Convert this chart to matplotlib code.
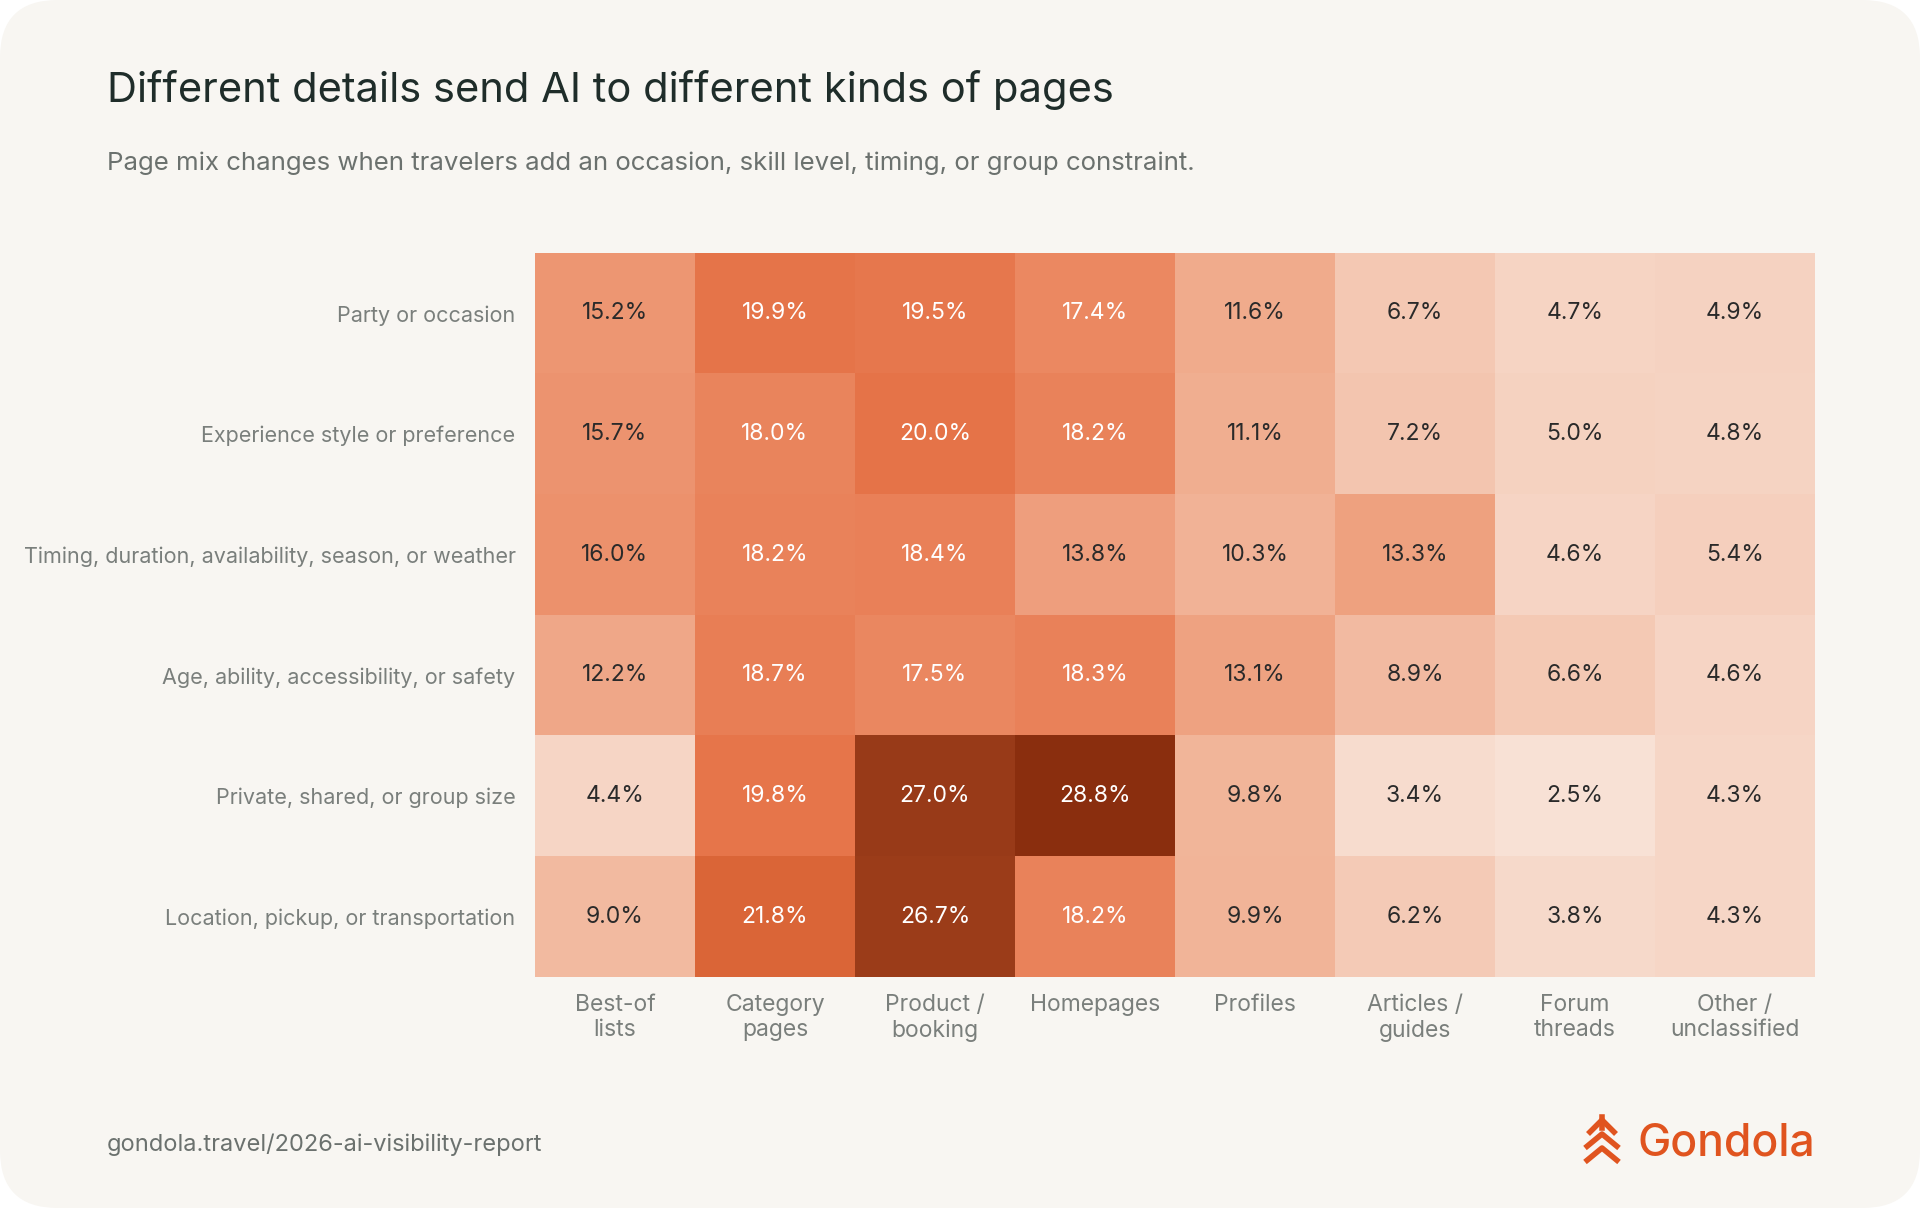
import numpy as np
import matplotlib
matplotlib.use('Agg')
import matplotlib.pyplot as plt
from matplotlib.colors import LinearSegmentedColormap
from matplotlib.patches import FancyBboxPatch
from matplotlib.lines import Line2D

plt.rcParams['font.family'] = ['Inter', 'DejaVu Sans']

#%% DATA
rows = ['Party or occasion', 'Experience style or preference',
        'Timing, duration, availability, season, or weather',
        'Age, ability, accessibility, or safety',
        'Private, shared, or group size', 'Location, pickup, or transportation']
cols = ['Best-of\nlists', 'Category\npages', 'Product /\nbooking', 'Homepages',
        'Profiles', 'Articles /\nguides', 'Forum\nthreads', 'Other /\nunclassified']
party = [15.2, 19.9, 19.5, 17.4, 11.6, 6.7, 4.7, 4.9]
style = [15.7, 18.0, 20.0, 18.2, 11.1, 7.2, 5.0, 4.8]
timing = [16.0, 18.2, 18.4, 13.8, 10.3, 13.3, 4.6, 5.4]
age = [12.2, 18.7, 17.5, 18.3, 13.1, 8.9, 6.6, 4.6]
group = [4.4, 19.8, 27.0, 28.8, 9.8, 3.4, 2.5, 4.3]
location = [9.0, 21.8, 26.7, 18.2, 9.9, 6.2, 3.8, 4.3]
values = np.array([party, style, timing, age, group, location])

#%% STYLE
BG = '#f8f6f2'
ORANGE = '#e0541f'
cmap = LinearSegmentedColormap.from_list('gondola', [
    (0.0, '#f8e1d5'), (0.3, '#f1b295'), (0.55, '#ec8c66'),
    (0.7, '#e46d40'), (0.78, '#cd5a2c'), (0.9, '#a0401d'), (1.0, '#8a2e0e')])

fig = plt.figure(figsize=(19.2, 12.08), dpi=100)
fig.patch.set_facecolor('white')
card = FancyBboxPatch((0.0, 0.0), 1.0, 1.0, boxstyle='round,pad=0,rounding_size=0.03',
                      transform=fig.transFigure, facecolor=BG, edgecolor='none',
                      mutation_aspect=1920 / 1208, zorder=-10)
fig.patches.append(card)

ax = fig.add_axes([535 / 1920, 1 - 977 / 1208, 1280 / 1920, 724 / 1208])
ax.imshow(values, cmap=cmap, vmin=2.5, vmax=28.8, aspect='auto')
for i in range(values.shape[0]):
    for j in range(values.shape[1]):
        v = values[i, j]
        ax.text(j, i, f'{v:.1f}%', ha='center', va='center', fontsize=16.5,
                color='white' if v >= 17 else '#2a2a2a')

ax.set_xticks(range(len(cols)))
ax.set_xticklabels(cols, fontsize=16.5, color='#7a7f7c', linespacing=1.2)
ax.set_yticks(range(len(rows)))
ax.set_yticklabels(rows, fontsize=15.5, color='#7a7f7c')
ax.tick_params(axis='y', length=0, pad=14)
ax.tick_params(axis='x', length=0, pad=12)
for s in ax.spines.values():
    s.set_visible(False)

fig.text(107 / 1920, 1 - 90 / 1208, 'Different details send AI to different kinds of pages',
         fontsize=30, color='#1f2d2a', va='center')
fig.text(107 / 1920, 1 - 163 / 1208,
         'Page mix changes when travelers add an occasion, skill level, timing, or group constraint.',
         fontsize=18.6, color='#6b716e', va='center')
fig.text(107 / 1920, 1 - 1145 / 1208, 'gondola.travel/2026-ai-visibility-report',
         fontsize=17, color='#6b716e', va='center')
fig.text(1815 / 1920, 1 - 1143 / 1208, 'Gondola', fontsize=32, color=ORANGE,
         va='center', ha='right', fontweight='medium')

# logo mark: a spire with stacked chevrons
cx = 1602
for top, half in [(1120, 14), (1134, 17), (1148, 17)]:
    xs = [(cx - half) / 1920, cx / 1920, (cx + half) / 1920]
    ys = [1 - (top + 14) / 1208, 1 - top / 1208, 1 - (top + 14) / 1208]
    fig.add_artist(Line2D(xs, ys, color=ORANGE, lw=4, solid_capstyle='butt'))
fig.add_artist(Line2D([cx / 1920, cx / 1920], [1 - 1117 / 1208, 1 - 1128 / 1208],
                      color=ORANGE, lw=4))

fig.savefig('out.png', dpi=100, facecolor=fig.get_facecolor())
